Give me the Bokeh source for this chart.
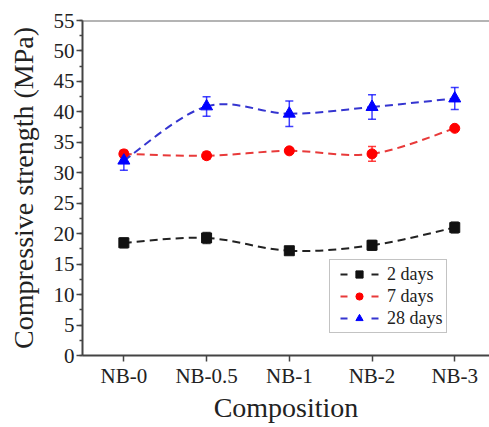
import numpy as np
from bokeh.plotting import figure
from bokeh.models import (Range1d, FixedTicker, SingleIntervalTicker, Whisker, TeeHead,
                          ColumnDataSource, Legend, LegendItem, Span)
from bokeh.embed import file_html
from bokeh.resources import INLINE

categories = ["NB-0", "NB-0.5", "NB-1", "NB-2", "NB-3"]
days2 = [18.5, 19.3, 17.2, 18.1, 21.0]
days2_err = [0.8, 0.9, 0.4, 0.8, 0.9]
days7 = [33.1, 32.8, 33.6, 33.1, 37.3]
days7_err = [0.6, 0.6, 0.4, 1.2, 0.3]
days28 = [32.0, 40.9, 39.7, 40.8, 42.2]
days28_err = [1.6, 1.6, 2.1, 2.0, 1.8]
series_names = ["2 days", "7 days", "28 days"]

FONT = "Liberation Serif"

p = figure(width=489, height=427, output_backend="svg", toolbar_location=None,
           x_range=Range1d(-0.5, 4.42), y_range=Range1d(0, 55),
           min_border_left=82, min_border_right=0, min_border_top=20, min_border_bottom=72)
p.outline_line_color = None
p.grid.visible = False
p.background_fill_color = "white"
p.border_fill_color = "white"

xs = list(range(len(categories)))

def smooth_segments(x, y):
    x = np.asarray(x, float); y = np.asarray(y, float)
    n = len(x)
    x0, y0, x1, y1, cx0, cy0, cx1, cy1 = [], [], [], [], [], [], [], []
    for i in range(n - 1):
        im = max(i - 1, 0); ip = min(i + 2, n - 1)
        x0.append(x[i]); y0.append(y[i]); x1.append(x[i + 1]); y1.append(y[i + 1])
        cx0.append(x[i] + (x[i + 1] - x[im]) / 6.0)
        cy0.append(y[i] + (y[i + 1] - y[im]) / 6.0)
        cx1.append(x[i + 1] - (x[ip] - x[i]) / 6.0)
        cy1.append(y[i + 1] - (y[ip] - y[i]) / 6.0)
    return dict(x0=x0, y0=y0, x1=x1, y1=y1, cx0=cx0, cy0=cy0, cx1=cx1, cy1=cy1)

specs = [
    (days2, days2_err, "#111111", "#222222", "square", 10),
    (days7, days7_err, "#ff0000", "#e83a3a", "circle", 10),
    (days28, days28_err, "#0000ff", "#3535d0", "triangle", 12),
]

items = []
for (vals, errs, mcol, lcol, mk, sz), name in zip(specs, series_names):
    p.bezier(source=ColumnDataSource(smooth_segments(xs, vals)),
             x0="x0", y0="y0", x1="x1", y1="y1", cx0="cx0", cy0="cy0", cx1="cx1", cy1="cy1",
             line_color=lcol, line_width=2, line_dash="8 5")
    src = ColumnDataSource(dict(x=xs, y=vals,
                                lo=[v - e for v, e in zip(vals, errs)],
                                hi=[v + e for v, e in zip(vals, errs)]))
    w = Whisker(source=src, base="x", lower="lo", upper="hi", dimension="height",
                line_color=mcol, line_width=1.5, line_alpha=0.75,
                upper_head=TeeHead(size=8, line_color=mcol, line_width=1.5, line_alpha=0.75),
                lower_head=TeeHead(size=8, line_color=mcol, line_width=1.5, line_alpha=0.75))
    p.add_layout(w)
    sc = p.scatter(x="x", y="y", source=src, marker=mk, size=sz,
                   fill_color=mcol, line_color=mcol)
    # single-point line: draws nothing on the plot, only provides the legend's dashed glyph
    legend_line = p.line(x=xs[:1], y=vals[:1], line_color=lcol, line_width=2,
                         line_dash="7 24", line_dash_offset=24)
    items.append(LegendItem(label=name, renderers=[legend_line, sc]))

top = Span(location=55, dimension="width", line_color="#6a6a6a", line_width=2)
p.add_layout(top)

legend = Legend(items=items, location=(247, 22), glyph_width=52, glyph_height=18,
                label_standoff=2, padding=3, spacing=0, margin=0,
                label_text_font=FONT, label_text_font_size="18px", label_text_color="#222222",
                label_height=22, border_line_color="#888888", border_line_width=1.5,
                background_fill_alpha=1.0)
p.add_layout(legend, "center")

# axes
for ax in (p.xaxis[0], p.yaxis[0]):
    ax.axis_line_color = "#444444"
    ax.axis_line_width = 2
    ax.major_tick_line_color = "#444444"
    ax.major_tick_line_width = 1.5
    ax.minor_tick_line_color = "#444444"
    ax.minor_tick_line_width = 1.5
    ax.major_tick_out = 6
    ax.major_tick_in = 0
    ax.minor_tick_out = 3
    ax.minor_tick_in = 0
    ax.major_label_text_font = FONT
    ax.major_label_text_font_size = "21px"
    ax.major_label_text_color = "#222222"
    ax.axis_label_text_font = FONT
    ax.axis_label_text_font_size = "28px"
    ax.axis_label_text_font_style = "normal"
    ax.axis_label_text_color = "#222222"

p.xaxis.ticker = FixedTicker(ticks=xs, minor_ticks=[])
p.xaxis.major_label_overrides = {i: c for i, c in zip(xs, categories)}
p.xaxis.axis_label = "Composition"
p.xaxis.major_label_standoff = 2
p.xaxis.axis_label_standoff = 1

p.yaxis.ticker = SingleIntervalTicker(interval=5, num_minor_ticks=2)
p.yaxis.axis_label = "Compressive strength (MPa)"
p.yaxis.major_label_standoff = 2
p.yaxis.axis_label_standoff = 12

open("out.html", "w").write(file_html(p, INLINE))
